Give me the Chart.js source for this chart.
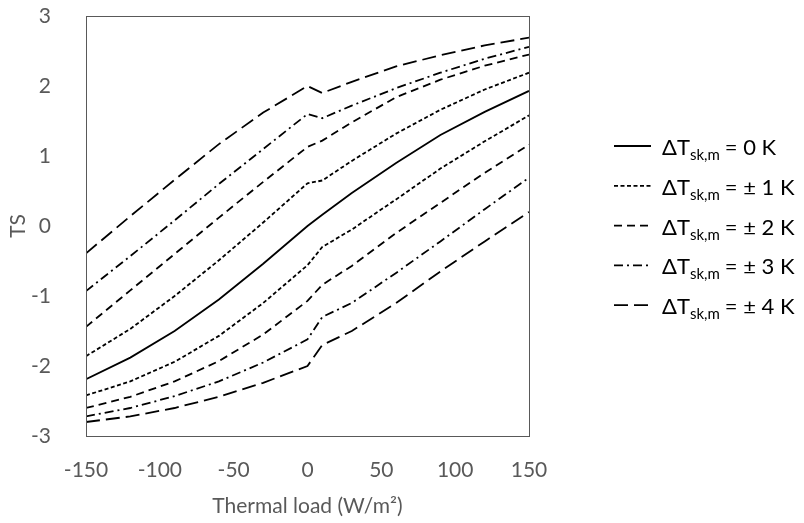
<!DOCTYPE html>
<html>
<head>
<meta charset="utf-8">
<script src="https://cdn.jsdelivr.net/npm/chart.js@4"></script>
<style>
  html, body { margin: 0; padding: 0; background: #fff; }
  #wrap { width: 804px; height: 523px; }
</style>
</head>
<body>
<div id="wrap"><canvas id="tsChart" width="804" height="523"></canvas></div>
<script>
// thermal load (W/m2) where TS was read
const thermalLoad = [-150, -120, -90, -60, -30, 0, 10, 30, 60, 90, 120, 150];

// TS per skin temperature offset
const ts0      = [-2.19, -1.88, -1.50, -1.05, -0.54, 0.00, 0.16, 0.47, 0.90, 1.30, 1.63, 1.93];
const tsPlus1  = [-1.86, -1.47, -1.00, -0.49, 0.05, 0.61, 0.65, 0.93, 1.32, 1.66, 1.95, 2.19];
const tsMinus1 = [-2.42, -2.22, -1.94, -1.57, -1.10, -0.56, -0.30, -0.05, 0.38, 0.82, 1.21, 1.58];
const tsPlus2  = [-1.44, -0.92, -0.40, 0.12, 0.63, 1.13, 1.22, 1.48, 1.84, 2.09, 2.29, 2.45];
const tsMinus2 = [-2.60, -2.44, -2.22, -1.93, -1.55, -1.07, -0.84, -0.57, -0.10, 0.33, 0.76, 1.16];
const tsPlus3  = [-0.93, -0.43, 0.08, 0.60, 1.10, 1.60, 1.54, 1.72, 1.97, 2.19, 2.39, 2.56];
const tsMinus3 = [-2.72, -2.60, -2.43, -2.22, -1.95, -1.62, -1.30, -1.10, -0.67, -0.22, 0.24, 0.69];
const tsPlus4  = [-0.39, 0.14, 0.66, 1.17, 1.62, 2.00, 1.90, 2.06, 2.28, 2.44, 2.58, 2.69];
const tsMinus4 = [-2.80, -2.72, -2.60, -2.44, -2.24, -2.00, -1.70, -1.50, -1.10, -0.65, -0.22, 0.20];

const legendLabels = ['= 0 K', '= \u00b1 1 K', '= \u00b1 2 K', '= \u00b1 3 K', '= \u00b1 4 K'];
const xTicks = [-150, -100, -50, 0, 50, 100, 150];
const yTicks = [-3, -2, -1, 0, 1, 2, 3];

const dashes = [[], [4, 2.5], [8, 5], [9, 4, 2, 4], [14, 6]];
const FONT = 'Lato, "Liberation Sans", sans-serif';
const GREY = '#595959';

function toPoints(ys) {
    return thermalLoad.map((x, i) => ({ x: x, y: ys[i] }));
}

function line(ys, level) {
    return {
        data: toPoints(ys),
        borderColor: '#000',
        borderWidth: 1.8,
        borderDash: dashes[level],
        pointRadius: 0,
        tension: 0,
        fill: false
    };
}

const datasets = [
    line(ts0, 0),
    line(tsPlus1, 1), line(tsMinus1, 1),
    line(tsPlus2, 2), line(tsMinus2, 2),
    line(tsPlus3, 3), line(tsMinus3, 3),
    line(tsPlus4, 4), line(tsMinus4, 4)
];

// plot frame + legend with subscripts
const frameAndLegend = {
    id: 'frameAndLegend',
    afterDraw(chart) {
        const ctx = chart.ctx;
        const a = chart.chartArea;
        ctx.save();
        ctx.strokeStyle = GREY;
        ctx.lineWidth = 1;
        ctx.setLineDash([]);
        ctx.strokeRect(Math.round(a.left) + 0.5, Math.round(a.top) + 0.5,
            Math.round(a.right - a.left), Math.round(a.bottom - a.top));

        const x0 = 614, x1 = 651, tx = 662;
        legendLabels.forEach((lab, i) => {
            const y = 146 + i * 39.8;
            ctx.strokeStyle = '#000';
            ctx.lineWidth = 1.8;
            ctx.setLineDash(dashes[i]);
            ctx.beginPath();
            ctx.moveTo(x0, y);
            ctx.lineTo(x1, y);
            ctx.stroke();
            ctx.setLineDash([]);

            ctx.fillStyle = '#000';
            ctx.textBaseline = 'alphabetic';
            ctx.textAlign = 'left';
            const base = y + 9;
            ctx.font = '22px ' + FONT;
            ctx.fillText('\u0394T', tx, base);
            let w = ctx.measureText('\u0394T').width;
            ctx.font = '15px ' + FONT;
            ctx.fillText('sk,m', tx + w, base + 5);
            w += ctx.measureText('sk,m').width + 5;
            ctx.font = '22px ' + FONT;
            ctx.fillText(lab, tx + w, base);
        });
        ctx.restore();
    }
};

new Chart(document.getElementById('tsChart'), {
    type: 'line',
    data: { datasets: datasets },
    options: {
        responsive: false,
        animation: false,
        events: [],
        layout: { padding: { left: 0, right: 275, top: 16, bottom: 0 } },
        plugins: {
            legend: { display: false },
            tooltip: { enabled: false }
        },
        scales: {
            x: {
                type: 'linear',
                min: -150,
                max: 150,
                afterFit: s => { s.height = 87; s.paddingTop = 0; s.paddingBottom = 0; },
                afterBuildTicks: s => { s.ticks = xTicks.map(v => ({ value: v })); },
                grid: { display: false, drawTicks: false },
                border: { display: false },
                ticks: { color: GREY, font: { family: FONT, size: 21 }, padding: 22, maxRotation: 0 },
                title: {
                    display: true,
                    text: 'Thermal load (W/m\u00b2)',
                    color: GREY,
                    font: { family: FONT, size: 21 },
                    padding: { top: 0, bottom: 4 }
                }
            },
            y: {
                min: -3,
                max: 3,
                afterFit: s => { s.width = 86; s.paddingTop = 0; s.paddingBottom = 0; },
                afterBuildTicks: s => { s.ticks = yTicks.map(v => ({ value: v })); },
                grid: { display: false, drawTicks: false },
                border: { display: false },
                ticks: { color: GREY, font: { family: FONT, size: 21 }, padding: 35 },
                title: {
                    display: true,
                    text: 'TS',
                    color: GREY,
                    font: { family: FONT, size: 21 },
                    padding: { top: 6, bottom: 0 }
                }
            }
        }
    },
    plugins: [frameAndLegend]
});
</script>
</body>
</html>
